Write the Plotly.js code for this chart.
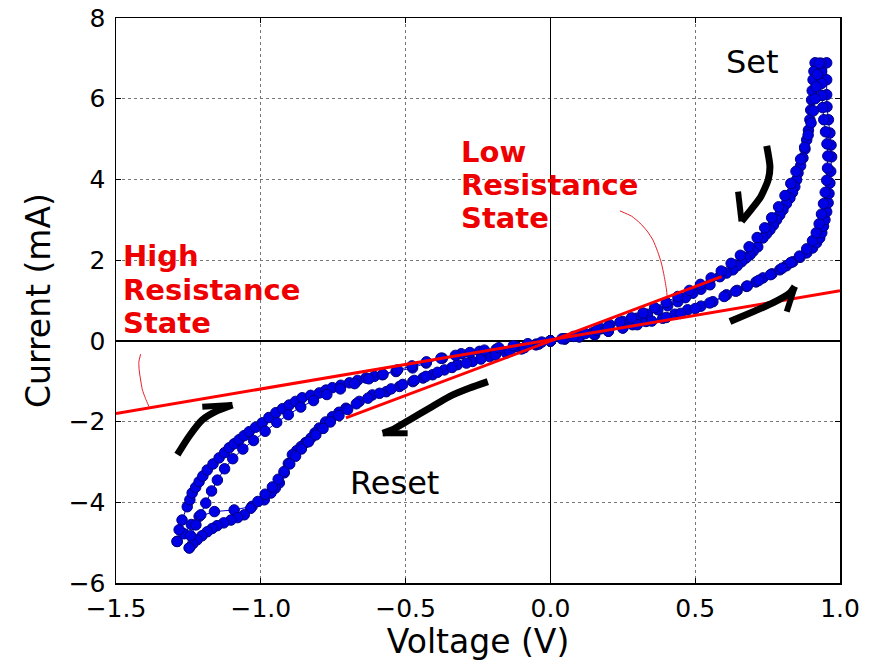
<!DOCTYPE html>
<html>
<head>
<meta charset="utf-8">
<script src="https://cdn.plot.ly/plotly-3.0.1.min.js"></script>
<style>html,body{margin:0;padding:0;background:#fff;}#chart{width:869px;height:664px;}</style>
</head>
<body>
<div id="chart"></div>
<script>
// ---- Data ----
// Positive sweep, cycle 1: forward (HRS -> set) and return (LRS)
const p1FwdV = [0,0.05,0.10,0.153,0.20,0.25,0.284,0.33,0.388,0.43,0.474,0.52,0.561,0.608,0.645,0.677,0.71,0.734,0.765,0.792,0.815,0.837,0.862,0.885,0.905,0.919,0.930,0.937,0.943,0.948,0.954,0.959,0.962,0.965,0.968,0.971,0.969,0.965,0.960,0.955,0.954,0.954,0.954];
const p1FwdI = [0,0.05,0.10,0.15,0.24,0.32,0.40,0.48,0.56,0.66,0.77,0.86,0.97,1.14,1.25,1.35,1.46,1.56,1.66,1.76,1.86,1.96,2.07,2.18,2.30,2.43,2.55,2.68,2.84,3.0,3.2,3.42,3.65,3.91,4.2,4.56,4.85,5.15,5.48,5.80,6.1,6.47,6.89];
const p1RetV = [0.914,0.910,0.907,0.904,0.902,0.899,0.896,0.891,0.885,0.879,0.872,0.864,0.855,0.850,0.844,0.836,0.827,0.815,0.803,0.792,0.781,0.770,0.758,0.746,0.734,0.716,0.700,0.689,0.675,0.660,0.645,0.630,0.608,0.585,0.551,0.52,0.492,0.466,0.44,0.405,0.371,0.335,0.297,0.25,0.205,0.175,0.146,0.10,0.05,0];
const p1RetI = [6.89,6.68,6.47,6.2,5.97,5.72,5.48,5.22,4.98,4.75,4.53,4.34,4.16,3.99,3.82,3.68,3.54,3.40,3.25,3.12,3.0,2.87,2.75,2.65,2.55,2.33,2.22,2.13,2.05,1.96,1.86,1.76,1.68,1.59,1.39,1.28,1.18,1.07,0.97,0.87,0.77,0.66,0.56,0.48,0.40,0.30,0.20,0.10,0.05,0];
// Positive sweep, cycle 2
const p2FwdV = [0,0.05,0.10,0.15,0.20,0.25,0.30,0.35,0.40,0.45,0.50,0.55,0.60,0.64,0.68,0.72,0.76,0.80,0.83,0.86,0.885,0.905,0.918,0.928,0.936,0.943,0.949,0.954,0.957,0.958,0.955,0.950,0.944,0.940,0.938,0.937,0.936,0.935];
const p2FwdI = [0,0.05,0.11,0.17,0.24,0.32,0.40,0.49,0.58,0.68,0.80,0.94,1.10,1.23,1.36,1.50,1.64,1.80,1.94,2.10,2.28,2.48,2.68,2.90,3.14,3.40,3.68,3.98,4.28,4.58,4.88,5.18,5.48,5.78,6.08,6.38,6.68,6.88];
const p2RetV = [0.928,0.922,0.918,0.914,0.908,0.900,0.890,0.878,0.864,0.848,0.830,0.810,0.788,0.764,0.740,0.714,0.686,0.656,0.624,0.590,0.555,0.518,0.480,0.440,0.400,0.360,0.320,0.280,0.240,0.200,0.160,0.120,0.080,0.040,0];
const p2RetI = [6.88,6.60,6.30,6.00,5.70,5.40,5.10,4.80,4.50,4.20,3.90,3.60,3.32,3.05,2.80,2.56,2.33,2.12,1.92,1.73,1.56,1.40,1.25,1.10,0.95,0.82,0.69,0.57,0.46,0.35,0.26,0.18,0.11,0.05,0];
// Negative sweep, cycle 1: reset (LRS -> HRS) and return (HRS)
const n1ResV = [0,-0.05,-0.10,-0.152,-0.21,-0.269,-0.321,-0.366,-0.407,-0.44,-0.475,-0.521,-0.567,-0.615,-0.660,-0.706,-0.730,-0.753,-0.776,-0.798,-0.813,-0.827,-0.845,-0.861,-0.876,-0.891,-0.905,-0.919,-0.936,-0.950,-0.965,-0.988,-1.030,-1.092,-1.160,-1.213,-1.240,-1.265,-1.289];
const n1ResI = [0,-0.10,-0.20,-0.30,-0.39,-0.51,-0.59,-0.72,-0.84,-0.92,-1.01,-1.13,-1.26,-1.34,-1.50,-1.67,-1.77,-1.88,-2.01,-2.16,-2.28,-2.41,-2.52,-2.62,-2.72,-2.82,-3.04,-3.27,-3.52,-3.65,-3.77,-3.94,-4.10,-4.19,-4.23,-4.35,-4.55,-4.78,-4.97];
const n1RetV = [-1.289,-1.282,-1.272,-1.254,-1.245,-1.237,-1.225,-1.213,-1.20,-1.185,-1.165,-1.144,-1.125,-1.109,-1.092,-1.075,-1.058,-1.040,-1.018,-0.995,-0.972,-0.948,-0.925,-0.902,-0.880,-0.857,-0.828,-0.798,-0.775,-0.753,-0.724,-0.694,-0.666,-0.637,-0.608,-0.580,-0.533,-0.476,-0.429,-0.373,-0.308,-0.245,-0.187,-0.118,-0.049,0];
const n1RetI = [-4.97,-4.68,-4.44,-4.11,-3.94,-3.77,-3.63,-3.49,-3.35,-3.20,-3.05,-2.90,-2.77,-2.65,-2.55,-2.45,-2.35,-2.25,-2.14,-2.03,-1.90,-1.78,-1.68,-1.59,-1.50,-1.41,-1.35,-1.29,-1.22,-1.16,-1.10,-1.04,-0.98,-0.92,-0.88,-0.84,-0.76,-0.67,-0.55,-0.43,-0.32,-0.26,-0.21,-0.14,-0.08,0];
// Negative sweep, cycle 2
const n2ResV = [0,-0.04,-0.09,-0.14,-0.19,-0.24,-0.29,-0.34,-0.39,-0.43,-0.47,-0.51,-0.55,-0.59,-0.63,-0.67,-0.70,-0.73,-0.76,-0.785,-0.81,-0.835,-0.86,-0.88,-0.90,-0.92,-0.94,-0.96,-0.985,-1.01,-1.035,-1.057,-1.080,-1.103,-1.128,-1.151,-1.168,-1.185,-1.203,-1.220,-1.235,-1.247];
const n2ResI = [0,-0.08,-0.17,-0.26,-0.35,-0.45,-0.55,-0.66,-0.78,-0.88,-0.98,-1.08,-1.19,-1.30,-1.42,-1.56,-1.70,-1.85,-2.01,-2.17,-2.33,-2.50,-2.68,-2.86,-3.05,-3.24,-3.43,-3.62,-3.80,-3.98,-4.15,-4.31,-4.38,-4.44,-4.51,-4.58,-4.65,-4.73,-4.83,-4.93,-5.03,-5.13];
const n2RetV = [-1.247,-1.242,-1.224,-1.207,-1.190,-1.170,-1.150,-1.125,-1.097,-1.062,-1.025,-0.985,-0.945,-0.905,-0.862,-0.818,-0.772,-0.725,-0.676,-0.627,-0.578,-0.528,-0.478,-0.428,-0.378,-0.328,-0.278,-0.228,-0.178,-0.128,-0.078,-0.03,0];
const n2RetI = [-5.13,-4.83,-4.56,-4.31,-4.02,-3.72,-3.45,-3.17,-2.92,-2.68,-2.47,-2.24,-2.02,-1.83,-1.64,-1.48,-1.33,-1.19,-1.06,-0.94,-0.83,-0.72,-0.62,-0.52,-0.43,-0.36,-0.29,-0.23,-0.17,-0.12,-0.07,-0.03,0];

// Linear fits (red lines)
const hrsV = [-1.5, 1.0];
const hrsI = [-1.80, 1.24];
const lrsV = [-0.706, 0.591];
const lrsI = [-1.91, 1.59];

// Callout leader curves
const lrsCalloutV = [0.240, 0.280, 0.309, 0.334, 0.354, 0.370, 0.383, 0.393, 0.401, 0.403];
const lrsCalloutI = [3.22, 3.09, 2.92, 2.72, 2.50, 2.22, 1.93, 1.60, 1.26, 1.10];
const hrsCalloutV = [-1.415, -1.421, -1.420, -1.415, -1.409, -1.398, -1.386];
const hrsCalloutI = [-0.33, -0.52, -0.72, -0.97, -1.21, -1.43, -1.63];

// Black sweep-direction arrows: shaft and barb
const arrSetV = [0.747, 0.758, 0.752, 0.727, 0.695, 0.660];
const arrSetI = [4.83, 4.32, 3.99, 3.58, 3.27, 2.96];
const arrSetBarbV = [0.648, 0.660];
const arrSetBarbI = [3.70, 2.96];
const arrUpV = [0.620, 0.707, 0.768, 0.827, 0.844];
const arrUpI = [0.478, 0.743, 0.94, 1.19, 1.345];
const arrUpBarbV = [0.844, 0.816];
const arrUpBarbI = [1.345, 0.726];
const arrResetV = [-0.216, -0.279, -0.349, -0.418, -0.487, -0.545, -0.579];
const arrResetI = [-1.01, -1.17, -1.38, -1.67, -1.96, -2.20, -2.29];
const arrResetBarbV = [-0.579, -0.493];
const arrResetBarbI = [-2.29, -2.29];
const arrHrsV = [-1.288, -1.248, -1.202, -1.155, -1.098];
const arrHrsI = [-2.82, -2.37, -1.96, -1.75, -1.59];
const arrHrsBarbV = [-1.098, -1.202];
const arrHrsBarbI = [-1.59, -1.63];

const xTicks = [-1.5, -1.0, -0.5, 0.0, 0.5, 1.0];
const xTickText = ['\u22121.5', '\u22121.0', '\u22120.5', '0.0', '0.5', '1.0'];
const yTicks = [-6, -4, -2, 0, 2, 4, 6, 8];
const yTickText = ['\u22126', '\u22124', '\u22122', '0', '2', '4', '6', '8'];

// Text labels
const lrsLabelLines = ['Low', 'Resistance', 'State'];
const hrsLabelLines = ['High', 'Resistance', 'State'];

// ---- Traces ----
const FONT = 'DejaVu Sans, Liberation Sans, sans-serif';
function dataTrace(v, i) {
  return {x: v, y: i, type: 'scatter', mode: 'lines+markers', showlegend: false, hoverinfo: 'skip',
    line: {color: '#0000cc', width: 1},
    marker: {size: 10.5, color: '#0000e6', line: {color: '#000080', width: 1}}};
}
function lineTrace(v, i, color, width) {
  return {x: v, y: i, type: 'scatter', mode: 'lines', showlegend: false, hoverinfo: 'skip',
    line: {color: color, width: width, shape: 'spline', smoothing: 0.6}};
}
const traces = [
  dataTrace(p1FwdV, p1FwdI), dataTrace(p1RetV, p1RetI),
  dataTrace(p2FwdV, p2FwdI), dataTrace(p2RetV, p2RetI),
  dataTrace(n1ResV, n1ResI), dataTrace(n1RetV, n1RetI),
  dataTrace(n2ResV, n2ResI), dataTrace(n2RetV, n2RetI),
  lineTrace(hrsV, hrsI, '#ff0000', 3),
  lineTrace(lrsV, lrsI, '#ff0000', 3),
  lineTrace(lrsCalloutV, lrsCalloutI, '#e8202a', 1),
  lineTrace(hrsCalloutV, hrsCalloutI, '#e8202a', 1),
  lineTrace(arrSetV, arrSetI, '#000', 7), lineTrace(arrSetBarbV, arrSetBarbI, '#000', 6),
  lineTrace(arrUpV, arrUpI, '#000', 7), lineTrace(arrUpBarbV, arrUpBarbI, '#000', 6),
  lineTrace(arrResetV, arrResetI, '#000', 7), lineTrace(arrResetBarbV, arrResetBarbI, '#000', 6),
  lineTrace(arrHrsV, arrHrsI, '#000', 7), lineTrace(arrHrsBarbV, arrHrsBarbI, '#000', 6)
];

const redFont = {family: FONT, size: 29, color: '#ee0000', weight: 'bold'};
// label line positions (left edge V, line centres I)
const lrsLabelV = -0.316, lrsLabelI = [4.68, 3.86, 3.04];
const hrsLabelV = -1.482, hrsLabelI = [2.11, 1.26, 0.44];
const annotations = [
  {x: 0.697, y: 6.91, text: 'Set', showarrow: false, font: {family: FONT, size: 32, color: '#000'}},
  {x: -0.539, y: -3.52, text: 'Reset', showarrow: false, font: {family: FONT, size: 32, color: '#000'}}
];
lrsLabelLines.forEach((t, k) => annotations.push({x: lrsLabelV, y: lrsLabelI[k], xanchor: 'left', text: t, showarrow: false, font: redFont}));
hrsLabelLines.forEach((t, k) => annotations.push({x: hrsLabelV, y: hrsLabelI[k], xanchor: 'left', text: t, showarrow: false, font: redFont}));

const layout = {
  width: 869, height: 664,
  margin: {l: 116, r: 29, t: 18, b: 81},
  paper_bgcolor: '#fff', plot_bgcolor: '#fff',
  font: {family: FONT, color: '#000'},
  xaxis: {
    range: [-1.5, 1.0], tickvals: xTicks, ticktext: xTickText,
    showgrid: true, gridcolor: '#777', griddash: 'dot', gridwidth: 1,
    zeroline: true, zerolinecolor: '#000', zerolinewidth: 1.5,
    showline: true, mirror: 'ticks', linecolor: '#000', linewidth: 1.5,
    ticks: 'inside', ticklen: 5, tickcolor: '#000', ticklabelstandoff: 2,
    tickfont: {family: FONT, size: 25},
    title: {text: 'Voltage (V)', font: {family: FONT, size: 33}, standoff: 2}
  },
  yaxis: {
    range: [-6, 8], tickvals: yTicks, ticktext: yTickText,
    showgrid: true, gridcolor: '#777', griddash: 'dot', gridwidth: 1,
    zeroline: true, zerolinecolor: '#000', zerolinewidth: 1.5,
    showline: true, mirror: 'ticks', linecolor: '#000', linewidth: 1.5,
    ticks: 'inside', ticklen: 5, tickcolor: '#000', ticklabelstandoff: 4,
    tickfont: {family: FONT, size: 25},
    title: {text: 'Current (mA)', font: {family: FONT, size: 33}, standoff: 8}
  },
  annotations: annotations
};

Plotly.newPlot('chart', traces, layout, {displayModeBar: false, staticPlot: true});
</script>
</body>
</html>
